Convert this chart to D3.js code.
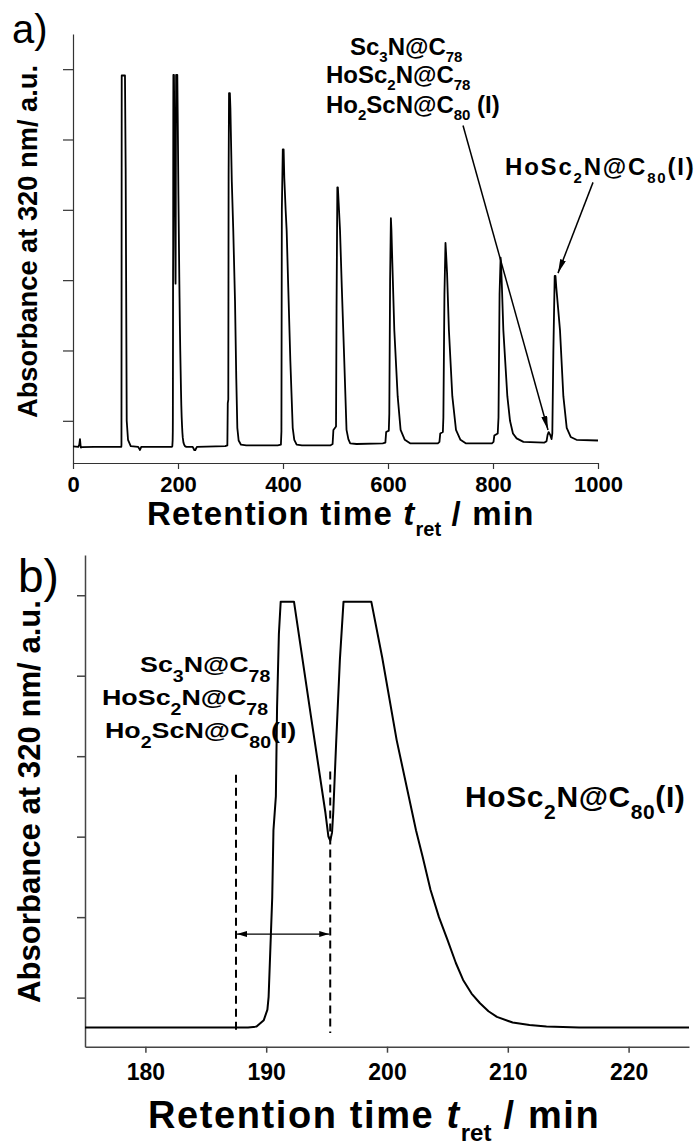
<!DOCTYPE html>
<html><head><meta charset="utf-8">
<script src="https://cdn.jsdelivr.net/npm/d3@7"></script>
<style>
body{margin:0;background:#fff}
svg{display:block}
</style>
</head><body>
<svg id="c" width="698" height="1145" font-family="'Liberation Sans',Arial,Helvetica,sans-serif" font-weight="bold"></svg>
<script>
// ---------------- data ----------------
const xTicksA = [0, 200, 400, 600, 800, 1000];
const xMinorA = [100, 300, 500, 700, 900];
const xTicksB = [180, 190, 200, 210, 220];
const xMinorB = [175, 185, 195, 205, 215, 225];
const yMajor = [1, 2, 3, 4, 5, 6];
const yMinor = [0.5, 1.5, 2.5, 3.5, 4.5, 5.5, 6.5];

// panel b: detailed trace of the 2nd cycle (t in min, absorbance a.u.)
const traceB = [[175,0.63],[186,0.63],[188.5,0.63],[189.2,0.64],[189.8,0.72],[190.1,0.85],[190.2,1.01],
  [190.35,1.63],[190.5,2.25],[190.6,3.08],[190.8,3.5],[190.9,4.61],[191.05,5.52],[191.2,5.92],[192.3,5.92],
  [193.7,4.5],[194.9,3.3],[195.15,3.0],[195.3,2.95],[195.45,3.05],[195.55,3.3],[195.8,4.2],[196.1,5.2],
  [196.4,5.92],[198.7,5.92],[199.6,5.23],[200.8,4.2],[202.4,3.08],[202.95,2.75],[203.6,2.34],[204.3,2.0],
  [205.0,1.72],[205.7,1.43],[206.3,1.22],[207.0,1.05],[207.7,0.93],[208.4,0.83],[209.1,0.76],[210.4,0.69],
  [211.8,0.66],[213.2,0.64],[215.9,0.63],[225,0.63]];

// panel a: full recycling chromatogram, one list per cycle
const startA = [[0,0.635],[10,0.63],[12,0.66],[13.3,0.74],[14.8,0.62],[17,0.625],[40,0.63],[92,0.63]];
const peak1 = [[92.3,0.66],[92.8,5.91],[99,5.91],[100.3,4.6],[102.3,1.0],[104.8,0.73],[110,0.64],
  [124,0.63],[126.5,0.6],[127.6,0.585],[130,0.63],[186,0.63]];
const peak2tail = [[228,0.63],[231,0.585],[233,0.585],[236,0.63],[290,0.64]];
const peak3 = [[294,0.65],[294.8,1.25],[295.8,1.3],[296.4,4.5],[297.2,5.66],[298.8,5.66],[299.8,5.45],
  [302.5,4.4],[305.3,3.7],[308.6,2.7],[311,1.6],[313,0.9],[315.5,0.72],[320,0.66],[330,0.65],[390,0.65]];
const peak4 = [[396,0.66],[397,0.85],[397.8,4.0],[399.6,4.86],[401.2,4.86],[402.5,4.45],[405,4.0],[407,3.7],
  [410,2.9],[414,1.85],[418.5,0.9],[421.5,0.73],[426,0.66],[436,0.65],[490,0.65]];
const peak5 = [[494.5,0.67],[496,0.87],[501,0.92],[502,2.6],[503.5,4.32],[504.5,4.32],[506,4.1],[508.6,3.71],
  [512,2.9],[516.5,1.9],[521,0.87],[524.5,0.74],[528,0.68],[540,0.67],[590,0.68]];
const peak6 = [[595,0.69],[596.5,0.84],[601.5,0.86],[602.5,1.1],[604,3.0],[605.5,3.88],[606.5,3.72],
  [608.3,3.24],[612,2.29],[618.4,1.35],[624,0.87],[632,0.73],[642,0.68],[695,0.68]];
const peak7 = [[698,0.7],[699.5,0.82],[704.5,0.84],[705.5,1.05],[707.5,2.8],[709.5,3.53],[710.5,3.4],
  [712.5,3.1],[716,2.29],[722.5,1.35],[729.5,0.87],[738,0.73],[748,0.68],[798,0.68]];
const peak8 = [[801,0.7],[802.5,0.79],[809,0.82],[810.5,1.05],[812.5,2.8],[814.5,3.32],[815.5,3.2],[817,2.9],
  [819.7,2.29],[827.3,1.35],[832.4,1.0],[838,0.82],[845,0.75],[858,0.7],[898,0.69]];
const peak9 = [[902,0.71],[904,0.8],[906,0.84],[909,0.8],[911.5,0.74],[913,0.82],[915,2.0],[917.5,3.06],
  [919,3.06],[920.5,2.9],[924,2.6],[927.6,2.29],[934,1.35],[940.4,0.9],[948,0.77],[959,0.73],[1000,0.72]];

// annotations (data coordinates)
const arrowsA = [[[742.9,5.2],[904.8,0.87]], [[990.5,4.39],[923.8,3.1]]];
const dashedB = [[187.5,3.77,0.55],[195.3,3.81,0.56]];
const spanB = [187.5,195.3,1.79];

const labelsA = ["Sc_{3}N@C_{78}", "HoSc_{2}N@C_{78}", "Ho_{2}ScN@C_{80} (I)"];
const labelA2 = "HoSc_{2}N@C_{80}(I)";
const labelsB = ["Sc_{3}N@C_{78}", "HoSc_{2}N@C_{78}", "Ho_{2}ScN@C_{80}(I)"];
const labelB2 = "HoSc_{2}N@C_{80}(I)";
const yTitle = "Absorbance at 320 nm/ a.u.";

// ---------------- drawing ----------------
const svg = d3.select("#c");
const defs = svg.append("defs");
defs.append("marker").attr("id","ah").attr("viewBox","0 0 14 6").attr("refX",14).attr("refY",3)
  .attr("markerWidth",14).attr("markerHeight",6).attr("markerUnits","userSpaceOnUse").attr("orient","auto")
  .append("path").attr("d","M0,0L14,3L0,6Z").attr("fill","#000");
defs.append("marker").attr("id","ahs").attr("viewBox","0 0 10 6").attr("refX",10).attr("refY",3)
  .attr("markerWidth",10).attr("markerHeight",6).attr("markerUnits","userSpaceOnUse").attr("orient","auto-start-reverse")
  .append("path").attr("d","M0,0L10,3L0,6Z").attr("fill","#000");

function chem(g, x, y, str, o) {
  const t = g.append("text").attr("transform", `translate(${x},${y}) scale(${o.sx||1},1)`)
    .attr("font-size", o.size).attr("letter-spacing", o.ls||0);
  const parts = str.split(/(_\{[^}]*\})/).filter(s => s.length);
  let shifted = false;
  parts.forEach(p => {
    if (p.startsWith("_{")) {
      t.append("tspan").text(p.slice(2,-1)).attr("font-size", o.sub).attr("dy", shifted ? 0 : o.dy);
      shifted = true;
    } else {
      t.append("tspan").text(p).attr("dy", shifted ? -o.dy : 0);
      shifted = false;
    }
  });
  return t;
}

function axes(g, x, y, o) {
  const xa = g.append("g").attr("transform", `translate(0,${y.range()[0]})`);
  xa.call(d3.axisBottom(x).tickValues(o.xMinor).tickSize(o.xMin).tickSizeOuter(0).tickFormat(""));
  xa.call(d3.axisBottom(x).tickValues(o.xMajor).tickSize(o.xMaj).tickSizeOuter(0).tickFormat(d3.format("d")));
  xa.attr("font-family", null);
  xa.selectAll("text").attr("y", o.lblOff).attr("dy", 0).attr("font-size", o.lblSize)
    .attr("font-weight", "bold").attr("fill", "#000");
  const ya = g.append("g").attr("transform", `translate(${x.range()[0]},0)`);
  ya.call(d3.axisLeft(y).tickValues(yMinor).tickSize(o.yMin).tickSizeOuter(0).tickFormat(""));
  ya.call(d3.axisLeft(y).tickValues(yMajor).tickSize(o.yMaj).tickSizeOuter(0).tickFormat(""));
  g.selectAll(".domain, .tick line").attr("stroke", o.axisColor).attr("stroke-width", o.axisW);
}

// ----- panel a -----
const gA = svg.append("g");
const xA = d3.scaleLinear().domain([0,1000]).range([73,598]);
const yA = d3.scaleLinear().domain([0.4,6.5]).range([463,34]);
axes(gA, xA, yA, {xMinor:xMinorA, xMajor:xTicksA, xMin:4, xMaj:6, yMin:5, yMaj:10, lblOff:29, lblSize:22,
  axisColor:"#333", axisW:1.2});
const traceA = [].concat(startA, peak1, traceB.filter(d => d[0] > 186 && d[0] < 216), peak2tail,
  peak3, peak4, peak5, peak6, peak7, peak8, peak9);
const line = (x,y) => d3.line().x(d => x(d[0])).y(d => y(d[1]));
gA.append("path").datum(traceA).attr("d", line(xA,yA)).attr("fill","none").attr("stroke","#000")
  .attr("stroke-width",1.8).attr("stroke-linejoin","round");
arrowsA.forEach(a => gA.append("line").attr("x1",xA(a[0][0])).attr("y1",yA(a[0][1]))
  .attr("x2",xA(a[1][0])).attr("y2",yA(a[1][1])).attr("stroke","#000").attr("stroke-width",1.5)
  .attr("marker-end","url(#ah)"));
const posA = [[350,55],[326,83],[326,113]];
labelsA.forEach((s,i) => chem(gA, posA[i][0], posA[i][1], s, {size:24, sub:15, dy:7}));
chem(gA, 505, 175, labelA2, {size:24, sub:15, dy:8, ls:1.8});
gA.append("text").attr("x",12).attr("y",43).attr("font-size",40).attr("font-weight","normal").text("a)");
gA.append("text").attr("transform","translate(37,241.5) rotate(-90)").attr("text-anchor","middle")
  .attr("font-size",28).attr("textLength",353).attr("lengthAdjust","spacingAndGlyphs").text(yTitle);
const tA = gA.append("text").attr("x",147).attr("y",525).attr("font-size",33).attr("letter-spacing",1.2);
tA.append("tspan").text("Retention time ");
tA.append("tspan").text("t").attr("font-style","italic");
tA.append("tspan").text("ret").attr("font-size",20).attr("dy",11).attr("letter-spacing",0);
tA.append("tspan").text(" / min").attr("dy",-11);

// ----- panel b -----
const gB = svg.append("g");
const xB = d3.scaleLinear().domain([175,225]).range([85,689]);
const yB = d3.scaleLinear().domain([0.39,6.5]).range([1046.7,555]);
axes(gB, xB, yB, {xMinor:xMinorB, xMajor:xTicksB, xMin:4, xMaj:6, yMin:5, yMaj:8, lblOff:33.5, lblSize:23,
  axisColor:"#444", axisW:1.5});
gB.append("path").datum(traceB).attr("d", line(xB,yB)).attr("fill","none").attr("stroke","#000")
  .attr("stroke-width",2).attr("stroke-linejoin","round");
dashedB.forEach(d => gB.append("line").attr("x1",xB(d[0])).attr("x2",xB(d[0])).attr("y1",yB(d[1])).attr("y2",yB(d[2]))
  .attr("stroke","#000").attr("stroke-width",2).attr("stroke-dasharray","8,5"));
gB.append("line").attr("x1",xB(spanB[0])+1).attr("x2",xB(spanB[1])-1).attr("y1",yB(spanB[2])).attr("y2",yB(spanB[2]))
  .attr("stroke","#000").attr("stroke-width",1.2).attr("marker-start","url(#ahs)").attr("marker-end","url(#ahs)");
const posB = [[140,672],[102,705],[105,738]];
labelsB.forEach((s,i) => chem(gB, posB[i][0], posB[i][1], s, {size:22, sub:16, dy:10, sx:1.22}));
chem(gB, 465, 807, labelB2, {size:30, sub:21, dy:12, ls:0.6});
gB.append("text").attr("x",18).attr("y",592).attr("font-size",46).attr("font-weight","normal").text("b)");
gB.append("text").attr("transform","translate(40,801.5) rotate(-90)").attr("text-anchor","middle")
  .attr("font-size",32).attr("textLength",403).attr("lengthAdjust","spacingAndGlyphs").text(yTitle);
const tB = gB.append("text").attr("x",148).attr("y",1128).attr("font-size",38).attr("letter-spacing",1.6);
tB.append("tspan").text("Retention time ");
tB.append("tspan").text("t").attr("font-style","italic");
tB.append("tspan").text("ret").attr("font-size",24).attr("dy",13).attr("letter-spacing",0);
tB.append("tspan").text(" / min").attr("dy",-13);
</script>
</body></html>
